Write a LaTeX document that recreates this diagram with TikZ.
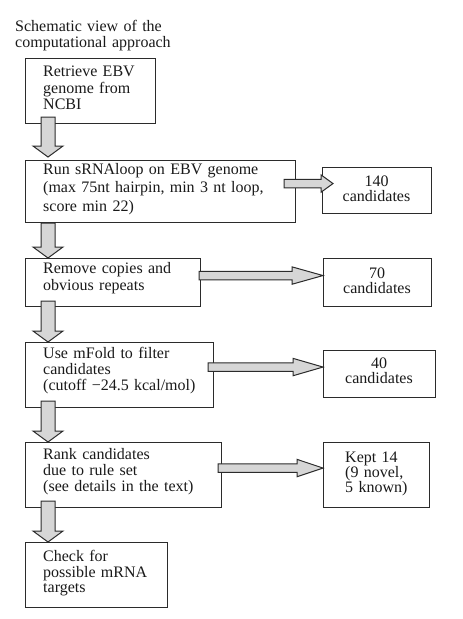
\documentclass[tikz,border=0pt]{standalone}
\usepackage{fontspec}
\setmainfont{Liberation Serif}
\usetikzlibrary{calc}
\definecolor{linec}{HTML}{2B2B2B}
\definecolor{arrfill}{HTML}{D6D6D6}
\definecolor{textc}{HTML}{1A1A1A}
\newcommand\fsz[1]{\fontsize{16}{#1}\selectfont}
% vertical block arrow: source, target, start offset above source bottom, gap above target top
\newcommand\VArrow[4]{%
  \path ($(#1.south west)+(23,-#3)$) coordinate (vs) ($(#2.north west)+(23,-#4)$) coordinate (vt);
  \draw[blockarrow] ($(vs)+(-7,0)$) -- ($(vt)+(-7,-11)$) -- ($(vt)+(-15,-11)$) -- (vt)
    -- ($(vt)+(15,-11)$) -- ($(vt)+(7,-11)$) -- ($(vs)+(7,0)$) -- cycle;}
% horizontal block arrow: source, target, start inset into source, tip overlap into target, head length
\newcommand\HArrow[5]{%
  \path ($(#1.east |- #2.center)+(-#3,-7)$) coordinate (hs) ($(#2.west)+(#4,-7)$) coordinate (ht);
  \draw[blockarrow] ($(hs)+(0,-4.3)$) -- ($(ht)+(-#5,-4.3)$) -- ($(ht)+(-#5,-8.7)$) -- (ht)
    -- ($(ht)+(-#5,8.7)$) -- ($(ht)+(-#5,4.3)$) -- ($(hs)+(0,4.3)$) -- cycle;}
\begin{document}
\begin{tikzpicture}[x=1pt,y=-1pt,
  box/.style={draw=linec, line width=1.1pt, fill=white, inner sep=0pt, anchor=north west},
  ltxt/.style={inner sep=0pt, anchor=base west, align=left, text width=#1, text=textc},
  ctxt/.style={inner sep=0pt, anchor=base, align=center, text width=#1, text=textc},
  blockarrow/.style={draw=linec, line width=1pt, fill=arrfill, line join=miter}]
\useasboundingbox (0,0) rectangle (463,619);
% main boxes
\node[box, minimum width=130, minimum height=65] (b1) at (25,58) {};
\node[box, minimum width=270, minimum height=62.5] (b2) at (25,159.5) {};
\node[box, minimum width=175, minimum height=48] (b3) at (25,258) {};
\node[box, minimum width=188, minimum height=65] (b4) at (25,342) {};
\node[box, minimum width=196, minimum height=65] (b5) at (25,442) {};
\node[box, minimum width=142, minimum height=65] (b6) at (25,542) {};
% result boxes
\node[box, minimum width=109, minimum height=46] (c1) at (322,167) {};
\node[box, minimum width=108, minimum height=48] (c2) at (323,258) {};
\node[box, minimum width=112, minimum height=47] (c3) at (323,350) {};
\node[box, minimum width=106, minimum height=65] (c4) at (323,442) {};
% texts
\node[ltxt=220, font=\fsz{15.5}] (title) at (15,31.5) {Schematic view of the\\computational approach};
\node[ltxt=120, font=\fsz{16.6}] (t1) at (43,76.7) {Retrieve EBV\\genome from\\NCBI};
\node[ltxt=250, font=\fsz{18.5}] (t2) at (43,174) {Run sRNAloop on EBV genome\\(max 75nt hairpin, min 3 nt loop,\\score min 22)};
\node[ltxt=160, font=\fsz{17.4}] (t3) at (43,273.3) {Remove copies and\\obvious repeats};
\node[ltxt=170, font=\fsz{15.8}] (t4) at (43,358.5) {Use mFold to filter\\candidates\\(cutoff −24.5 kcal/mol)};
\node[ltxt=175, font=\fsz{16}] (t5) at (43,459) {Rank candidates\\due to rule set\\(see details in the text)};
\node[ltxt=125, font=\fsz{15.5}] (t6) at (43,561.7) {Check for\\possible mRNA\\targets};
\node[ctxt=100, font=\fsz{15}] (tc1) at (376.5,186.7) {140\\candidates};
\node[ctxt=100, font=\fsz{15}] (tc2) at (377,278.3) {70\\candidates};
\node[ctxt=100, font=\fsz{15.5}] (tc3) at (379,368.3) {40\\candidates};
\node[ltxt=80, font=\fsz{15}] (tc4) at (345,462) {Kept 14\\(9 novel,\\5 known)};
% vertical arrows
\VArrow{b1}{b2}{7}{2.5}
\VArrow{b2}{b3}{0}{0}
\VArrow{b3}{b4}{6}{0}
\VArrow{b4}{b5}{7}{0}
\VArrow{b5}{b6}{7}{0}
% horizontal arrows
\HArrow{b2}{c1}{12}{11}{12}
\HArrow{b3}{c2}{2}{0}{31}
\HArrow{b4}{c3}{6}{0}{30}
\HArrow{b5}{c4}{4}{0}{26}
\end{tikzpicture}
\end{document}
